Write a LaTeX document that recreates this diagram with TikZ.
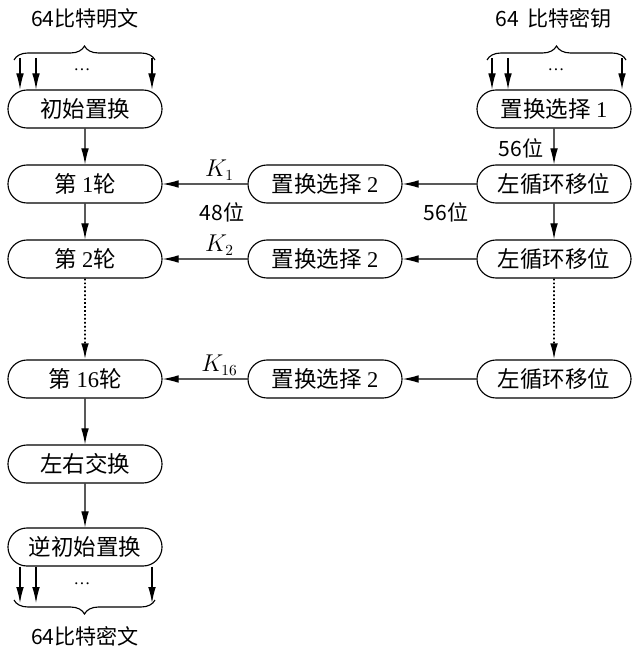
\documentclass[tikz,border=0pt]{standalone}
\usepackage{fontspec}
\setmainfont{Liberation Serif}
\newfontfamily\cjk{Noto Sans CJK SC}
\usetikzlibrary{shapes.misc, arrows.meta, positioning, decorations.pathreplacing}

\tikzset{
  box/.style={draw, rounded rectangle, minimum width=3.85cm, minimum height=0.95cm,
    inner sep=0pt, line width=0.8pt, font=\fontsize{16}{18}\selectfont},
  arr/.style={-{Latex[length=4mm,width=1.9mm]}, line width=0.8pt},
  dots/.style={dash pattern=on 1.2pt off 1.6pt, line width=1.3pt},
  lbl/.style={font=\cjk\fontsize{15}{17}\selectfont, inner sep=1pt},
  brc/.style={decorate, decoration={brace, amplitude=0.35cm}, line width=0.8pt}
}

\begin{document}
\begin{tikzpicture}[x=0.025cm, y=-0.025cm]
\useasboundingbox (0,0) rectangle (636,656);

% left column: data path
\node[box] (init) at (85,109) {\cjk 初始置换};
\node[box] (swap) at (85,464) {\cjk 左右交换};
\node[box] (invinit) at (85,547) {\cjk 逆初始置换};

% right column: key schedule
\node[box] (pcone) at (554,109) {{\cjk 置换选择} 1};

% sixteen rounds, three of them drawn
\foreach \i/\y in {1/184, 2/259, 16/379} {
    \node[box] (r\i) at (85,\y) {{\cjk 第} \i{\cjk 轮}};
    \node[box] (pc\i) at (325,\y) {{\cjk 置换选择} 2};
    \node[box] (ls\i) at (554,\y) {\cjk 左循环移位};
    \draw[arr] (ls\i) -- (pc\i);
    \draw[arr] (pc\i) -- node[pos=0.33, above, inner sep=2pt,
        font=\fontsize{16}{18}\selectfont] {$K_{\i}$} (r\i);
}

\node[lbl] (bits48) at (222,212) {48位};
\node[lbl] (bits56a) at (446,212) {56位};
\node[lbl] (bits56b) at (521,148) {56位};

\draw[arr] (init) -- (r1);
\draw[arr] (r1) -- (r2);
\draw[arr, dots] (r2) -- (r16);
\draw[arr] (r16) -- (swap);
\draw[arr] (swap) -- (invinit);

\draw[arr] (pcone) -- (ls1);
\draw[arr] (ls1) -- (ls2);
\draw[arr, dots] (ls2) -- (ls16);

% input and output bits
\node[lbl] (plain) at (85,18) {64比特明文};
\node[lbl] (key) at (554,18) {64\,\ 比特密钥};
\node[lbl] (cipher) at (85,636) {64比特密文};
\draw[brc] (14,60) -- (155,60);
\draw[brc] (487,60) -- (626,60);
\draw[brc] (155,600) -- (14,600);

\foreach \x in {20,36,152} {
    \coordinate (in\x) at (\x,58);
    \coordinate (out\x) at (\x,603);
    \draw[arr] (in\x) -- (in\x |- init.north);
    \draw[arr] (invinit.south -| out\x) -- (out\x);
}
\foreach \x in {492,508,622} {
    \coordinate (k\x) at (\x,58);
    \draw[arr] (k\x) -- (k\x |- pcone.north);
}
\node[font=\large] (dotsa) at (82,70) {\dots};
\node[font=\large] (dotsb) at (556,70) {\dots};
\node[font=\large] (dotsc) at (82,584) {\dots};
\end{tikzpicture}
\end{document}
